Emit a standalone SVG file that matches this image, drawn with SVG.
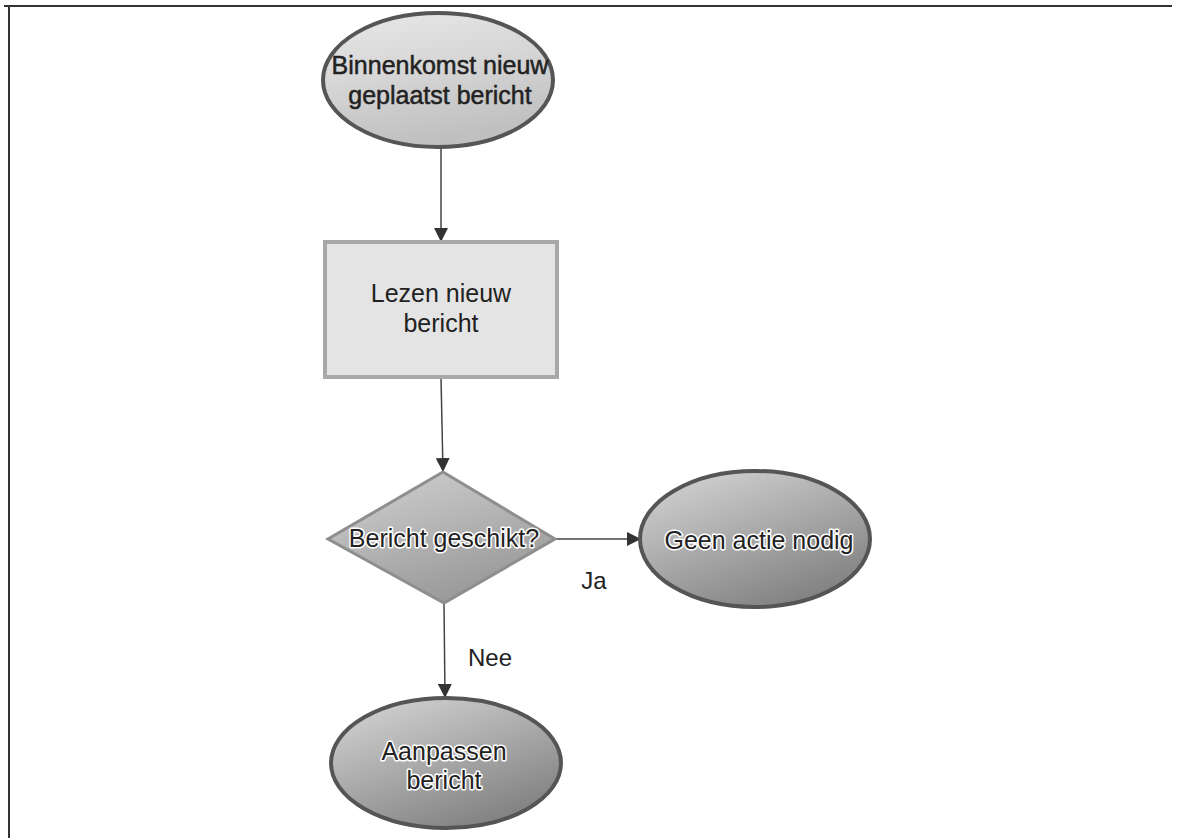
<svg xmlns="http://www.w3.org/2000/svg" width="1187" height="838" viewBox="0 0 1187 838">
  <defs>
    <linearGradient id="gTop" x1="0" y1="0" x2="0.3" y2="1">
      <stop offset="0" stop-color="#e8e8e8"/>
      <stop offset="0.5" stop-color="#d6d6d6"/>
      <stop offset="1" stop-color="#c0c0c0"/>
    </linearGradient>
    <linearGradient id="gDark" x1="0" y1="0" x2="0.6" y2="1">
      <stop offset="0" stop-color="#d8d8d8"/>
      <stop offset="0.45" stop-color="#b2b2b2"/>
      <stop offset="1" stop-color="#838383"/>
    </linearGradient>
    <linearGradient id="gDia" x1="0" y1="0" x2="0.5" y2="1">
      <stop offset="0" stop-color="#d2d2d2"/>
      <stop offset="0.5" stop-color="#b6b6b6"/>
      <stop offset="1" stop-color="#999999"/>
    </linearGradient>
    <marker id="arr" viewBox="0 0 14 14" refX="14" refY="7" markerWidth="14" markerHeight="14" markerUnits="userSpaceOnUse" orient="auto">
      <path d="M0,0 L14,7 L0,14 Z" fill="#333"/>
    </marker>
    <style>
      .lbl { font-family: "Liberation Sans", Arial, sans-serif; font-size: 25px; fill: #222; text-anchor: middle; }
      .heavy { stroke: #222; stroke-width: 0.5px; }
      .halo { stroke: #ffffff; stroke-width: 3px; paint-order: stroke; stroke-linejoin: round; }
      .ell { stroke: #555; stroke-width: 4; }
      .edge { stroke: #444; stroke-width: 1.5; fill: none; marker-end: url(#arr); }
      .elbl { font-family: "Liberation Sans", Arial, sans-serif; font-size: 24px; fill: #222; text-anchor: middle; }
    </style>
  </defs>

  <rect width="1187" height="838" fill="#ffffff"/>
  <g id="frame" stroke="#333" stroke-width="2" fill="none">
    <line x1="4" y1="6" x2="1172" y2="6"/>
    <line x1="9" y1="6" x2="9" y2="838"/>
  </g>

  <g id="connectors">
    <line class="edge" x1="441" y1="147" x2="441" y2="242"/>
    <line class="edge" x1="441" y1="377" x2="443" y2="472"/>
    <line class="edge" x1="556" y1="539" x2="641" y2="539"/>
    <line class="edge" x1="444" y1="603" x2="445" y2="698"/>
    <text class="elbl" x="594" y="589">Ja</text>
    <text class="elbl" x="490" y="666">Nee</text>
  </g>

  <g id="n-start">
    <ellipse class="ell" cx="438" cy="80" rx="115" ry="67" fill="url(#gTop)"/>
    <text class="lbl heavy" x="440" y="74">Binnenkomst nieuw</text>
    <text class="lbl heavy" x="440" y="104">geplaatst bericht</text>
  </g>

  <g id="n-lezen">
    <rect x="325" y="242" width="232" height="135" fill="#e4e4e4" stroke="#a8a8a8" stroke-width="4"/>
    <text class="lbl" x="441" y="302">Lezen nieuw</text>
    <text class="lbl" x="441" y="332">bericht</text>
  </g>

  <g id="n-decision">
    <polygon points="443,472 555,539 444,603 328,539" fill="url(#gDia)" stroke="#8e8e8e" stroke-width="3"/>
    <text class="lbl halo" x="444" y="547">Bericht geschikt?</text>
  </g>

  <g id="n-geen">
    <ellipse class="ell" cx="755" cy="539" rx="115" ry="68" fill="url(#gDark)"/>
    <text class="lbl halo" x="759" y="549">Geen actie nodig</text>
  </g>

  <g id="n-aanpassen">
    <ellipse class="ell" cx="446" cy="763" rx="115" ry="65" fill="url(#gDark)"/>
    <text class="lbl halo" x="444" y="760">Aanpassen</text>
    <text class="lbl halo" x="444" y="789">bericht</text>
  </g>
</svg>
